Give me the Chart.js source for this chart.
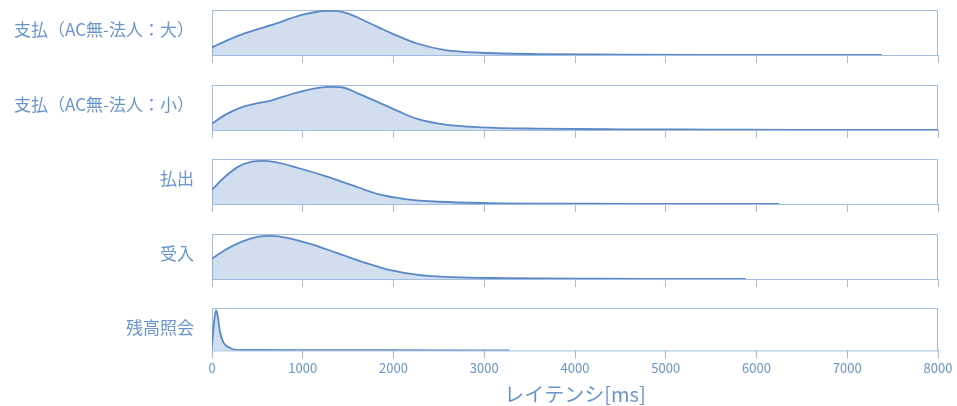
<!DOCTYPE html>
<html>
<head>
<meta charset="utf-8">
<title>レイテンシ分布</title>
<script src="https://cdn.jsdelivr.net/npm/chart.js"></script>
<style>
  body { margin:0; background:#fff; width:957px; height:406px; overflow:hidden; position:relative; }
  canvas { position:absolute; left:0; }
</style>
</head>
<body>
<canvas id="c0"></canvas>
<canvas id="c1"></canvas>
<canvas id="c2"></canvas>
<canvas id="c3"></canvas>
<canvas id="c4"></canvas>
<script>
// カテゴリ（上から順）
const categories = ["支払（AC無-法人：大）", "支払（AC無-法人：小）", "払出", "受入", "残高照会"];

// 密度（ピーク≒1に正規化）
const largeX = [0, 150, 360, 660, 990, 1130, 1280, 1400, 1500, 1600, 1690, 1830, 1980, 2270, 2570, 2970, 3590, 4500, 5500, 6500, 7380];
const largeY = [0.17, 0.31, 0.48, 0.67, 0.89, 0.95, 0.98, 0.97, 0.92, 0.84, 0.75, 0.62, 0.48, 0.25, 0.11, 0.05, 0.02, 0.01, 0.005, 0.003, 0.002];

const smallX = [0, 140, 330, 470, 660, 880, 1100, 1280, 1430, 1610, 1830, 2050, 2270, 2570, 2970, 3590, 4500, 5500, 6500, 8000];
const smallY = [0.14, 0.33, 0.51, 0.58, 0.66, 0.80, 0.91, 0.96, 0.95, 0.81, 0.62, 0.42, 0.24, 0.12, 0.06, 0.03, 0.015, 0.01, 0.005, 0.003];

const payoutX = [0, 140, 290, 440, 550, 700, 950, 1250, 1540, 1830, 2130, 2500, 3050, 4000, 5000, 6250];
const payoutY = [0.32, 0.60, 0.83, 0.94, 0.96, 0.93, 0.80, 0.62, 0.42, 0.22, 0.11, 0.05, 0.02, 0.008, 0.004, 0.002];

const receiveX = [0, 140, 330, 510, 660, 840, 1100, 1390, 1690, 1980, 2270, 2640, 3230, 4200, 5000, 5880];
const receiveY = [0.45, 0.64, 0.83, 0.94, 0.96, 0.91, 0.77, 0.57, 0.36, 0.19, 0.09, 0.04, 0.02, 0.008, 0.004, 0.002];

const balanceX = [0, 20, 44, 62, 88, 125, 180, 250, 400, 1000, 2000, 3280];
const balanceY = [0.1, 0.6, 0.95, 0.82, 0.44, 0.19, 0.08, 0.02, 0.01, 0.005, 0.003, 0.002];

const seriesX = [largeX, smallX, payoutX, receiveX, balanceX];
const seriesY = [largeY, smallY, payoutY, receiveY, balanceY];

// x軸
const xMin = 0;
const xMax = 8000;
const xStep = 1000;
const xTitle = "レイテンシ[ms]";

const lineColor = "#5b88c6";
const fillColor = "rgba(91,136,198,0.28)";
const boxColor = "#a3bde0";
const textColor = "#6a95cc";
const font = "'Noto Sans CJK JP', 'Noto Sans', sans-serif";

// パネル枠の上端（px）
const panelTops = [10, 85, 159, 234, 308];
const boxH = 43;

// 枠線＋左のラベル
const panelPlugin = {
  id: "panel",
  beforeDatasetsDraw(chart) {
    const a = chart.chartArea, ctx = chart.ctx;
    ctx.save();
    ctx.strokeStyle = boxColor;
    ctx.lineWidth = 1;
    ctx.strokeRect(a.left + 0.5, a.top + 0.5, a.right - a.left - 1, a.bottom - a.top);
    ctx.restore();
  },
  afterDraw(chart) {
    const a = chart.chartArea, ctx = chart.ctx;
    ctx.save();
    ctx.fillStyle = textColor;
    ctx.font = "17px " + font;
    ctx.textAlign = "right";
    ctx.textBaseline = "middle";
    ctx.fillText(chart.options.plugins.panel.label, a.left - 18, a.top + 20);
    ctx.restore();
  }
};

function makePanel(i) {
  const last = i === categories.length - 1;
  const canvas = document.getElementById("c" + i);
  const top = panelTops[i] - 2;
  const h = last ? 406 - top : boxH + 2 + 10;
  canvas.style.top = top + "px";
  canvas.width = 957;
  canvas.height = h;
  canvas.style.width = "957px";
  canvas.style.height = h + "px";

  const pts = seriesX[i].map((x, k) => ({ x: x, y: seriesY[i][k] }));

  new Chart(canvas, {
    type: "line",
    data: {
      datasets: [{
        data: pts,
        borderColor: lineColor,
        backgroundColor: fillColor,
        borderWidth: 1.8,
        fill: "origin",
        pointRadius: 0,
        cubicInterpolationMode: "monotone"
      }]
    },
    options: {
      responsive: false,
      animation: false,
      layout: { padding: { left: 212, right: 19, top: 2, bottom: 0 } },
      plugins: {
        legend: { display: false },
        tooltip: { enabled: false },
        panel: { label: categories[i] },
        // 一番下のパネルだけ軸タイトル
        title: {
          display: last,
          position: "bottom",
          text: xTitle,
          color: textColor,
          padding: { top: 4, bottom: 0 },
          font: { family: font, size: 20, weight: "normal" }
        }
      },
      scales: {
        x: {
          type: "linear",
          min: xMin,
          max: xMax,
          border: { display: false },
          grid: { drawOnChartArea: false, drawTicks: true, tickLength: 8, color: boxColor },
          ticks: {
            display: last,
            stepSize: xStep,
            color: textColor,
            padding: 2,
            font: { family: font, size: 13 },
            callback: (v) => String(v)
          }
        },
        y: { display: false, min: 0, max: 1 }
      }
    },
    plugins: [panelPlugin]
  });
}

for (let i = 0; i < categories.length; i++) makePanel(i);
</script>
</body>
</html>
